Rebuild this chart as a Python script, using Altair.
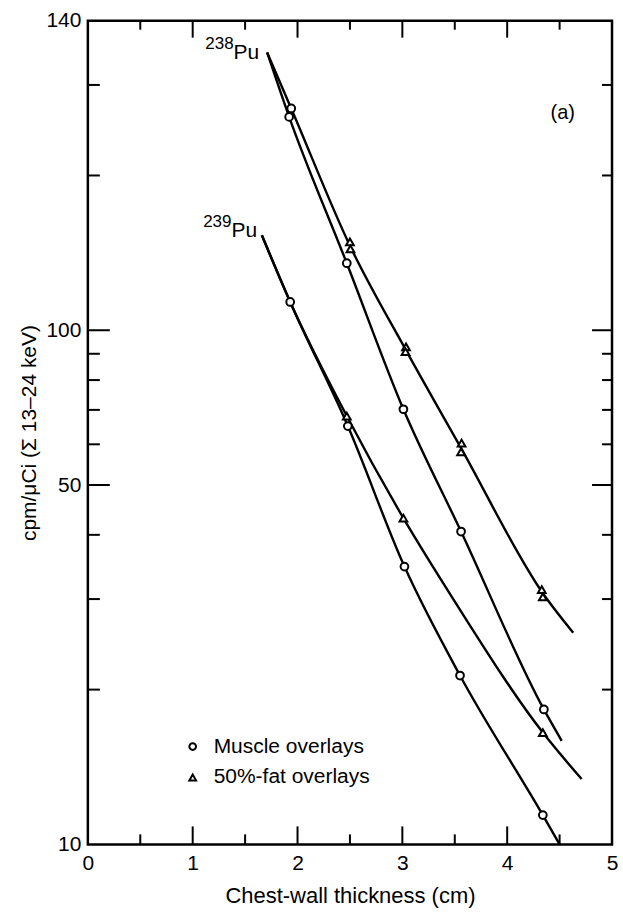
import altair as alt
import pandas as pd

# ---- curves ----
pu238_muscle_x = [1.71, 1.92, 2.47, 3.01, 3.56, 4.35, 4.52]
pu238_muscle_y = [347, 260, 135, 70.2, 40.6, 18.3, 15.9]
pu238_fat_x = [1.71, 1.94, 2.50, 3.03, 3.56, 4.34, 4.63]
pu238_fat_y = [347, 270, 146, 91.8, 59.0, 30.8, 25.8]
pu239_muscle_x = [1.66, 1.93, 2.48, 3.02, 3.55, 4.34, 4.50]
pu239_muscle_y = [153, 113.5, 65.1, 34.7, 21.3, 11.4, 10.0]
pu239_fat_x = [1.66, 1.93, 2.47, 3.01, 3.49, 4.34, 4.71]
pu239_fat_y = [153, 113.5, 68.1, 43.1, 29.9, 16.5, 13.4]

# ---- measured points ----
muscle_x = [1.92, 1.94, 2.47, 3.01, 3.56, 4.35, 1.93, 2.48, 3.02, 3.55, 4.34]
muscle_y = [260, 270, 135, 70.2, 40.6, 18.3, 113.5, 65.1, 34.7, 21.3, 11.4]
fat_x = [2.50, 2.505, 3.035, 3.03, 3.565, 3.56, 4.33, 4.34, 2.47, 3.01, 4.34]
fat_y = [148.5, 144, 92.8, 90.9, 60.3, 58.0, 31.3, 30.3, 68.1, 43.1, 16.5]
legend_labels = ["Muscle overlays", "50%-fat overlays"]
legend_shapes = ["circle", "triangle-up"]

# ---- annotations ----
iso_mass = ["238", "239"]
iso_x = [1.39, 1.37]
iso_mass_y = [360.6, 162.1]
iso_pu_y = [346.6, 156.3]
panel_label = ["(a)"]
panel_x = [4.53]
panel_y = [264]

# ---- axis ticks ----
x_labels = [0, 1, 2, 3, 4, 5]
y_labels = [10, 50, 100, 400]
x_major = [1, 2, 3, 4]
x_minor = [0.5, 1.5, 2.5, 3.5, 4.5]
y_major = [50, 100]
y_minor = [20, 30, 40, 60, 70, 80, 90, 200, 300]

W, H = 525, 825
FONT = "Liberation Sans"
XTITLE = "Chest-wall thickness (cm)"
YTITLE = "cpm/\u03bcCi (\u03a3 13\u201324 keV)"

xscale = alt.Scale(domain=[0, 5], nice=False, zero=False)
yscale = alt.Scale(type="log", domain=[10, 400], nice=False)
xaxis = alt.Axis(values=x_labels, format="d", tickSize=0, domain=False,
                 grid=False, labelFlush=False, labelPadding=8,
                 labelFontSize=21, titleFontSize=22, titlePadding=12,
                 titleFontWeight="normal", labelFont=FONT, titleFont=FONT,
                 labelColor="black", titleColor="black")
yaxis = alt.Axis(values=y_labels, format="d", tickSize=0, domain=False,
                 grid=False, labelPadding=7, labelOverlap=False,
                 labelExpr="datum.value == 400 ? '140' : datum.label",
                 labelFontSize=21, titleFontSize=21, titlePadding=6,
                 titleFontWeight="normal", labelFont=FONT, titleFont=FONT,
                 labelColor="black", titleColor="black")


def X(field):
    return alt.X(field, type="quantitative", scale=xscale, title=XTITLE, axis=xaxis)


def Y(field):
    return alt.Y(field, type="quantitative", scale=yscale, title=YTITLE, axis=yaxis)


rows = []
for name, xs, ys in [("238m", pu238_muscle_x, pu238_muscle_y),
                     ("238f", pu238_fat_x, pu238_fat_y),
                     ("239m", pu239_muscle_x, pu239_muscle_y),
                     ("239f", pu239_fat_x, pu239_fat_y)]:
    for i, (a, b) in enumerate(zip(xs, ys)):
        rows.append({"series": name, "idx": i, "x": a, "y": b})
curves = pd.DataFrame(rows)

pts = pd.DataFrame(
    [{"x": a, "y": b, "shape": legend_shapes[0]} for a, b in zip(muscle_x, muscle_y)]
    + [{"x": a, "y": b, "shape": legend_shapes[1]} for a, b in zip(fat_x, fat_y)]
)

lines = alt.Chart(curves).mark_line(
    color="black", strokeWidth=2.4, interpolate="monotone"
).encode(x=X("x"), y=Y("y"), detail="series:N", order="idx:Q")

points = alt.Chart(pts).mark_point(
    fill="white", stroke="black", strokeWidth=2, size=60, opacity=1, fillOpacity=1
).encode(x=X("x"), y=Y("y"), shape=alt.Shape("shape:N", scale=None))

iso_df = pd.DataFrame({"mass": iso_mass, "x": iso_x, "my": iso_mass_y,
                       "py": iso_pu_y, "pu": ["Pu", "Pu"]})
mass_text = alt.Chart(iso_df).mark_text(
    align="right", baseline="middle", fontSize=17, font=FONT, color="black"
).encode(x=X("x"), y=Y("my"), text="mass:N")
pu_text = alt.Chart(iso_df).mark_text(
    align="left", baseline="middle", fontSize=21, font=FONT, color="black"
).encode(x=X("x"), y=Y("py"), text="pu:N")

panel_df = pd.DataFrame({"t": panel_label, "x": panel_x, "y": panel_y})
panel_text = alt.Chart(panel_df).mark_text(
    align="center", baseline="middle", fontSize=20, font=FONT, color="black"
).encode(x=X("x"), y=Y("y"), text="t:N")


def yticks(vals, x0, x1):
    return alt.Chart(pd.DataFrame({"v": vals})).mark_rule(
        color="black", strokeWidth=2
    ).encode(y=Y("v"), x=alt.value(x0), x2=alt.value(x1))


def xticks(vals, y0, y1):
    return alt.Chart(pd.DataFrame({"v": vals})).mark_rule(
        color="black", strokeWidth=2
    ).encode(x=X("v"), y=alt.value(y0), y2=alt.value(y1))


ticks = [
    yticks(y_major, 0, 22), yticks(y_minor, 0, 12),
    yticks(y_major, W, W - 20), yticks(y_minor, W, W - 10),
    xticks(x_major, H, H - 18), xticks(x_minor, H, H - 10),
    xticks(x_major, 0, 17), xticks(x_minor, 0, 9),
]

# legend drawn as marks (one row per entry)
legend_layers = []
for i, (lab, shp) in enumerate(zip(legend_labels, legend_shapes)):
    d = pd.DataFrame({"label": [lab], "shape": [shp]})
    ypix = 727 + 31 * i
    legend_layers.append(
        alt.Chart(d).mark_point(fill="white", stroke="black", strokeWidth=2,
                                size=45, opacity=1, fillOpacity=1)
        .encode(x=alt.value(105), y=alt.value(ypix), shape=alt.Shape("shape:N", scale=None))
    )
    legend_layers.append(
        alt.Chart(d).mark_text(align="left", baseline="middle", fontSize=21,
                               font=FONT, color="black")
        .encode(x=alt.value(126), y=alt.value(ypix), text="label:N")
    )

chart = alt.layer(lines, *ticks, points, mass_text, pu_text, panel_text,
                  *legend_layers).properties(
    width=W, height=H,
    padding={"left": 18, "top": 9, "right": 5, "bottom": 9},
).configure(
    font=FONT, background="white"
).configure_view(
    stroke="black", strokeWidth=2.5
)

chart.save("out.html", embed_options={"renderer": "svg", "actions": False})
